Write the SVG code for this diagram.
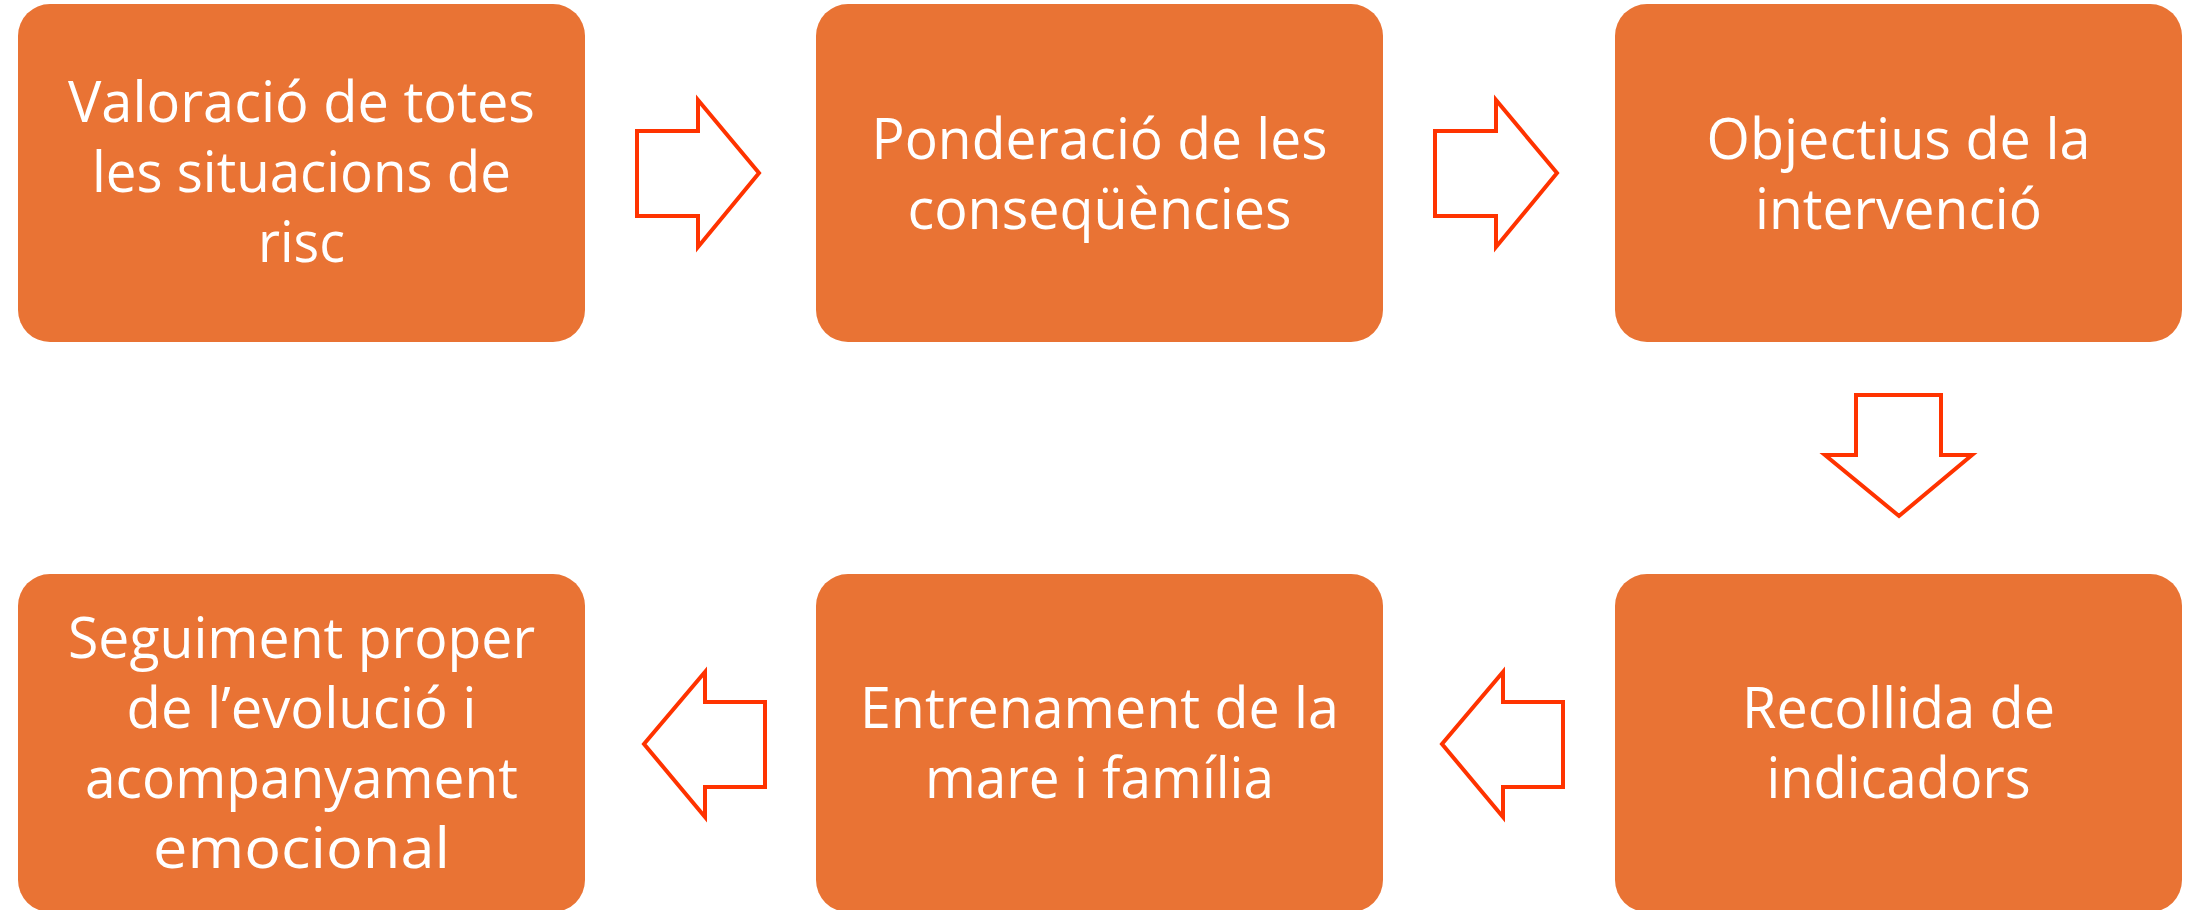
<svg xmlns="http://www.w3.org/2000/svg" width="2188" height="910" viewBox="0 0 2188 910">
<style>
.box{fill:#E97334;}
.t{font-family:"Open Sans","Noto Sans",sans-serif;font-size:56px;fill:#FFFFFF;text-anchor:middle;}
.arr{fill:#FFFFFF;stroke:#FF3300;stroke-width:4;stroke-linejoin:miter;}
</style>
<rect width="2188" height="910" fill="#FFFFFF"/>
<g id="n1"><rect class="box" x="18" y="4" width="567" height="338" rx="32"/>
<text class="t" x="301.5" y="122" textLength="467" lengthAdjust="spacingAndGlyphs">Valoració de totes</text>
<text class="t" x="301.5" y="192" textLength="419" lengthAdjust="spacingAndGlyphs">les situacions de</text>
<text class="t" x="301.5" y="262" textLength="87" lengthAdjust="spacingAndGlyphs">risc</text></g>
<g id="n2"><rect class="box" x="816" y="4" width="567" height="338" rx="32"/>
<text class="t" x="1099.5" y="159" textLength="456" lengthAdjust="spacingAndGlyphs">Ponderació de les</text>
<text class="t" x="1099.5" y="229" textLength="384" lengthAdjust="spacingAndGlyphs">conseqüències</text></g>
<g id="n3"><rect class="box" x="1615" y="4" width="567" height="338" rx="32"/>
<text class="t" x="1898.5" y="159" textLength="384" lengthAdjust="spacingAndGlyphs">Objectius de la</text>
<text class="t" x="1898.5" y="229" textLength="287" lengthAdjust="spacingAndGlyphs">intervenció</text></g>
<g id="n6"><rect class="box" x="1615" y="574" width="567" height="338" rx="32"/>
<text class="t" x="1898.5" y="728" textLength="313" lengthAdjust="spacingAndGlyphs">Recollida de</text>
<text class="t" x="1898.5" y="798" textLength="264" lengthAdjust="spacingAndGlyphs">indicadors</text></g>
<g id="n5"><rect class="box" x="816" y="574" width="567" height="338" rx="32"/>
<text class="t" x="1099.5" y="728" textLength="479" lengthAdjust="spacingAndGlyphs">Entrenament de la</text>
<text class="t" x="1099.5" y="798" textLength="349" lengthAdjust="spacingAndGlyphs">mare i família</text></g>
<g id="n4"><rect class="box" x="18" y="574" width="567" height="338" rx="32"/>
<text class="t" x="301.5" y="658" textLength="467" lengthAdjust="spacingAndGlyphs">Seguiment proper</text>
<text class="t" x="301.5" y="728" textLength="350" lengthAdjust="spacingAndGlyphs">de l’evolució i</text>
<text class="t" x="301.5" y="798" textLength="433" lengthAdjust="spacingAndGlyphs">acompanyament</text>
<text class="t" x="301.5" y="868" textLength="297" lengthAdjust="spacingAndGlyphs">emocional</text></g>
<g id="connectors">
<polygon class="arr" points="637,131 698,131 698,100 759,173 698,247 698,216 637,216"/>
<polygon class="arr" points="1435,131 1496,131 1496,100 1557,173 1496,247 1496,216 1435,216"/>
<polygon class="arr" points="1856,395 1941,395 1941,455 1972,455 1899,516 1825,455 1856,455"/>
<polygon class="arr" points="1563,702 1503,702 1503,672 1442,744 1503,817 1503,787 1563,787"/>
<polygon class="arr" points="765,702 705,702 705,672 644,744 705,817 705,787 765,787"/>
</g>
</svg>
